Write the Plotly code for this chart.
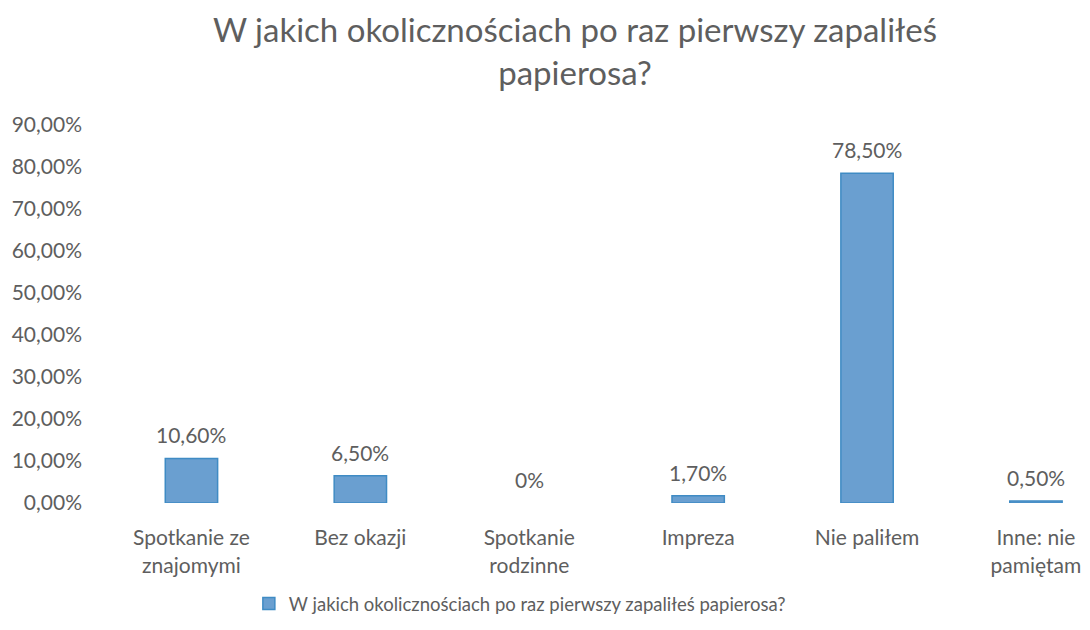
import plotly.graph_objects as go

# Dane z wykresu
kategorie = ["Spotkanie ze<br>znajomymi", "Bez okazji", "Spotkanie<br>rodzinne",
             "Impreza", "Nie paliłem", "Inne: nie<br>pamiętam"]
wartosci = [0.106, 0.065, 0.0, 0.017, 0.785, 0.005]
etykiety = ["10,60%", "6,50%", "0%", "1,70%", "78,50%", "0,50%"]
y_ticki = [0, 0.1, 0.2, 0.3, 0.4, 0.5, 0.6, 0.7, 0.8, 0.9]

pytanie = "W jakich okolicznościach po raz pierwszy zapaliłeś papierosa?"
szary = "#5e5e5e"
font_nazwa = "Lato, Open Sans, sans-serif"

# obramowanie tylko dla niezerowych słupków
obrys = [0 if v == 0 else 1.5 for v in wartosci]

fig = go.Figure()
fig.add_trace(go.Bar(
    x=kategorie,
    y=wartosci,
    name=pytanie,
    marker=dict(color="#6a9fd0", line=dict(color="#3f8bc4", width=obrys)),
    width=0.31,
    showlegend=True,
))

# etykiety wartości nad słupkami
for k, v, t in zip(kategorie, wartosci, etykiety):
    fig.add_annotation(
        x=k, y=v, text=t, showarrow=False,
        yanchor="bottom", yshift=9,
        font=dict(size=21, color=szary),
    )

fig.update_layout(
    width=1082, height=622,
    paper_bgcolor="white", plot_bgcolor="white",
    font=dict(family=font_nazwa, color=szary),
    separators=", ",
    title=dict(
        text="W jakich okolicznościach po raz pierwszy zapaliłeś<br>papierosa?",
        x=0.524, xanchor="center", y=0.945, yanchor="top",
        font=dict(size=33, color=szary),
    ),
    margin=dict(l=99, r=0, t=117, b=127),
    legend=dict(
        orientation="h", x=0.42, xanchor="center", y=-0.217, yanchor="top",
        font=dict(size=18.5, color=szary),
    ),
    xaxis=dict(
        range=[-0.5, 5.32],
        showgrid=False, showline=False, zeroline=False,
        tickfont=dict(size=21, color=szary),
        ticks="outside", ticklen=16, tickcolor="white",
    ),
    yaxis=dict(
        range=[0, 0.9],
        tickvals=y_ticki,
        tickformat=".2%",
        showgrid=False, showline=False, zeroline=False,
        tickfont=dict(size=21, color=szary),
        ticklabelstandoff=24,
    ),
)

fig.write_html("out.html")
